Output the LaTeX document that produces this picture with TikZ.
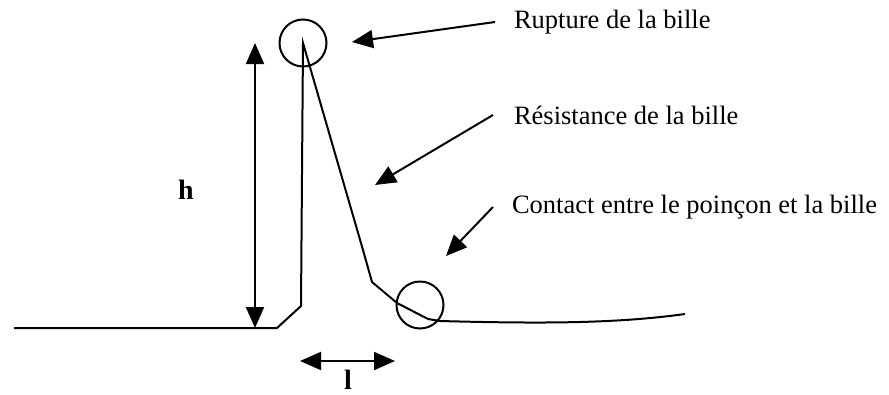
\documentclass[tikz,border=0pt]{standalone}
\usepackage{fontspec}
\setmainfont{Liberation Serif}
\usetikzlibrary{positioning,arrows.meta}

\begin{document}
\begin{tikzpicture}[%
    x=1pt, y=-1pt,
    >={Triangle[length=21pt,width=18pt]},
    line width=2pt,
    txt/.style={font=\fontsize{26.5}{30}\selectfont, anchor=west, inner sep=0pt},
    dimtxt/.style={font=\fontsize{28}{32}\selectfont\bfseries, inner sep=0pt},
    ring/.style={circle, draw, minimum size=47pt, inner sep=0pt}
  ]
    \useasboundingbox (0,0) rectangle (889,394);

    % the curve
    \draw (14,328) -- (277,328) -- (301,306) -- (303,43) -- (363,250)
      -- (372,282) -- (397,303) -- (428,319) -- (440,321)
      .. controls (550,324) and (620,323) .. (685,314);

    \node[ring] (rupture) at (303,43) {};
    \node[ring] (contact) at (420,305) {};

    % height
    \coordinate (htop) at (255,43);
    \coordinate (hbot) at (255,328);
    \draw[<->] (htop) -- (hbot);
    \node[dimtxt] (h) at (186,190) {h};

    % width
    \coordinate (lleft) at (300,361);
    \coordinate (lright) at (395,361);
    \draw[<->] (lleft) -- (lright);
    \node[dimtxt] (l) at (348,380) {l};

    % labels
    \node[txt] (trupture) at (513,22) {Rupture de la bille};
    \node[txt] (tresist) at (513,115) {Résistance de la bille};
    \node[txt] (tcontact) at (511,207) {Contact entre le poinçon et la bille};

    \coordinate (prupture) at (352,42);
    \coordinate (presist) at (375,185);
    \coordinate (pcontact) at (446,256);

    \draw[->] ([xshift=-18pt]trupture.west) -- (prupture);
    \draw[->] ([xshift=-20pt]tresist.west) -- (presist);
    \draw[->] ([xshift=-18pt]tcontact.west) -- (pcontact);
\end{tikzpicture}
\end{document}
